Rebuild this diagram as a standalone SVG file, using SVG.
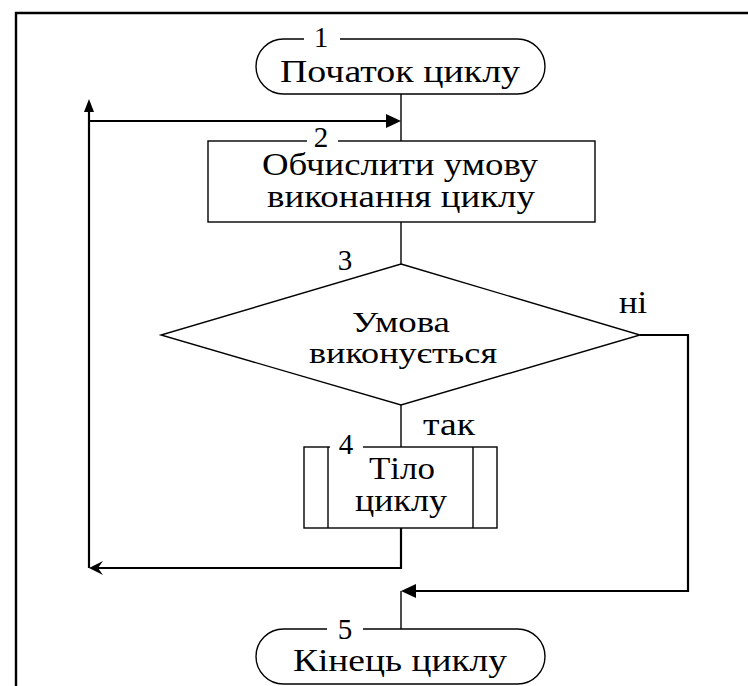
<svg xmlns="http://www.w3.org/2000/svg" width="748" height="686" viewBox="0 0 748 686">
<style>
  .sh { fill: #fff; stroke: #000; stroke-width: 1.4; }
  .ln { fill: none; stroke: #000; stroke-width: 1.4; }
  .lp { fill: none; stroke: #000; stroke-width: 2.2; }
  text { font-family: "Times New Roman", Times, Tinos, "Liberation Serif", "DejaVu Serif", "Noto Serif", FreeSerif, serif; fill: #000; text-anchor: middle; }
  .t { font-size: 31px; }
  .d { font-size: 29px; }
  .n { font-size: 29px; }
  .gap { stroke: #fff; stroke-width: 4; }
</style>
<rect width="748" height="686" fill="#fff"/>
<path d="M16,686 V13 H748" fill="none" stroke="#000" stroke-width="2.4"/>

<g id="connectors">
  <line class="ln" x1="401" y1="94" x2="401" y2="141"/>
  <polyline class="lp" points="89,568 89,104"/>
  <path d="M89,99 L84,112 L94,112 Z" fill="#000"/>
  <line class="lp" x1="89" y1="121" x2="389" y2="121"/>
  <path d="M401,121 L386,114 L386,128 Z" fill="#000"/>
  <line class="ln" x1="401" y1="222" x2="401" y2="264"/>
  <line class="ln" x1="401" y1="405" x2="401" y2="447"/>
  <polyline class="lp" points="401,528 401,568 92,568"/>
  <path d="M89,568 L103,561 L98,568 L103,575 Z" fill="#000"/>
  <polyline class="lp" points="640,335 688,335 688,591 412,591"/>
  <path d="M401,591 L416,584 L416,598 Z" fill="#000"/>
  <line class="ln" x1="401" y1="591" x2="401" y2="629"/>
</g>

<g id="n1">
  <rect class="sh" x="256" y="39" width="289" height="55" rx="27.5" ry="27.5"/>
  <line class="gap" x1="304" y1="39" x2="340" y2="39"/>
  <text class="n" x="321" y="47">1</text>
  <text class="t" x="400" y="82" textLength="240" lengthAdjust="spacingAndGlyphs">Початок циклу</text>
</g>

<g id="n2">
  <rect class="sh" x="208" y="141" width="387" height="81"/>
  <line class="gap" x1="307" y1="141" x2="338" y2="141"/>
  <text class="n" x="321" y="147">2</text>
  <text class="t" x="400" y="175" textLength="276" lengthAdjust="spacingAndGlyphs">Обчислити умову</text>
  <text class="t" x="401" y="207" textLength="268" lengthAdjust="spacingAndGlyphs">виконання циклу</text>
</g>

<g id="n3">
  <polygon class="sh" points="401,264 640,335 401,405 161,335"/>
  <text class="n" x="345" y="270">3</text>
  <text class="d" x="401" y="332" textLength="98" lengthAdjust="spacingAndGlyphs">Умова</text>
  <text class="d" x="403" y="363" textLength="188" lengthAdjust="spacingAndGlyphs">виконується</text>
  <text class="t" x="633" y="313" textLength="28" lengthAdjust="spacingAndGlyphs">ні</text>
</g>

<g id="n4">
  <rect class="sh" x="304" y="447" width="193" height="81"/>
  <line class="ln" x1="328" y1="447" x2="328" y2="528"/>
  <line class="ln" x1="473" y1="447" x2="473" y2="528"/>
  <line class="gap" x1="330" y1="447" x2="363" y2="447"/>
  <text class="n" x="346" y="454">4</text>
  <text class="t" x="402" y="479" textLength="66" lengthAdjust="spacingAndGlyphs">Тіло</text>
  <text class="t" x="401" y="511" textLength="92" lengthAdjust="spacingAndGlyphs">циклу</text>
  <text class="t" x="449" y="435" textLength="52" lengthAdjust="spacingAndGlyphs">так</text>
</g>

<g id="n5">
  <rect class="sh" x="256" y="629" width="289" height="55" rx="27.5" ry="27.5"/>
  <line class="gap" x1="327" y1="629" x2="363" y2="629"/>
  <text class="n" x="345" y="639">5</text>
  <text class="t" x="400" y="671" textLength="214" lengthAdjust="spacingAndGlyphs">Кінець циклу</text>
</g>
</svg>
